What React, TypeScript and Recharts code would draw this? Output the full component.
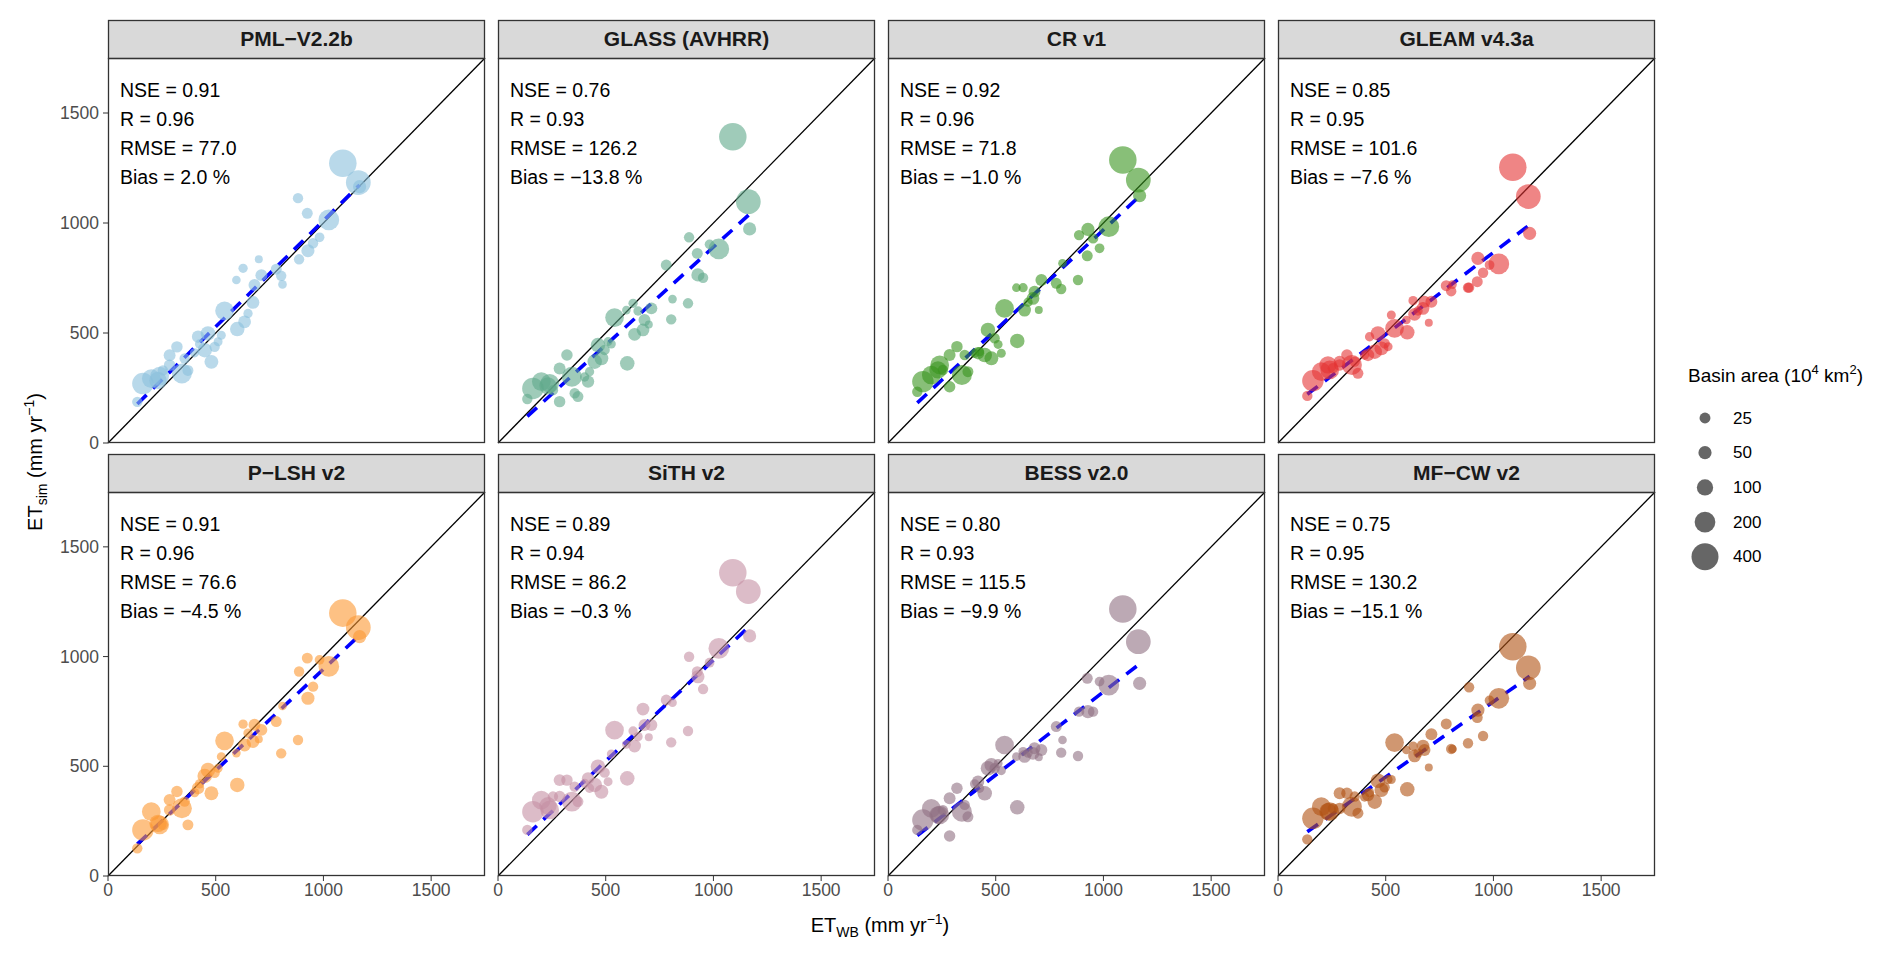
import React from 'react'
import { ScatterChart, Scatter, XAxis, YAxis, ReferenceLine } from 'recharts'

const FONT = '"Liberation Sans", Arial, Helvetica, sans-serif'

// basins: water-balance ET (x) and basin area (10^4 km2), shared by all panels
const etWb = [1090, 1162, 1168, 1025, 928, 887, 982, 952, 925, 810, 781, 804, 882, 712, 680, 673, 627, 634, 596, 700, 541, 600, 464, 511, 495, 480, 449, 418, 402, 425, 320, 286, 356, 343, 371, 240, 286, 201, 232, 162, 136, 255, 526, 650]
const basinArea = [420, 320, 50, 200, 50, 20, 15, 20, 25, 8, 25, 20, 20, 35, 35, 45, 12, 45, 8, 5, 150, 70, 70, 10, 20, 60, 70, 40, 12, 12, 30, 35, 20, 180, 25, 150, 30, 150, 120, 220, 20, 20, 10, 12]

// simulated ET per product
const simPml = [1272, 1184, 1165, 1014, 874, 835, 935, 908, 1044, 721, 790, 760, 1113, 763, 718, 639, 794, 551, 741, 835, 601, 518, 498, 460, 437, 369, 422, 483, 410, 450, 437, 399, 384, 316, 330, 304, 354, 293, 285, 270, 187, 330, 490, 589]
const simGlass = [1392, 1097, 973, 882, 764, 935, 903, 751, 862, 654, 809, 562, 635, 612, 559, 514, 635, 494, 604, 539, 570, 362, 445, 461, 423, 385, 370, 279, 300, 324, 400, 339, 226, 301, 211, 271, 188, 279, 260, 248, 200, 240, 450, 600]
const simCr = [1286, 1195, 1124, 983, 971, 945, 885, 930, 851, 817, 726, 700, 741, 741, 688, 657, 706, 604, 706, 604, 612, 464, 514, 448, 476, 385, 400, 408, 408, 415, 438, 400, 400, 309, 324, 355, 256, 309, 332, 279, 233, 332, 408, 640]
const simGleam = [1253, 1120, 953, 814, 839, 706, 809, 774, 733, 720, 715, 690, 706, 642, 642, 612, 647, 585, 559, 547, 521, 503, 498, 438, 453, 430, 415, 400, 400, 483, 400, 370, 370, 355, 317, 332, 355, 324, 355, 283, 214, 340, 582, 600]
const simPlsh = [1198, 1132, 1091, 955, 810, 932, 985, 863, 993, 775, 704, 559, 620, 666, 689, 613, 692, 597, 560, 623, 616, 415, 483, 491, 470, 377, 456, 400, 380, 420, 385, 347, 339, 309, 233, 233, 301, 293, 240, 210, 126, 233, 544, 651]
const simSith = [1382, 1296, 1094, 1037, 908, 999, 972, 852, 931, 790, 802, 609, 661, 688, 688, 761, 661, 592, 600, 632, 665, 445, 498, 430, 471, 384, 415, 445, 422, 400, 437, 437, 407, 339, 339, 301, 362, 346, 320, 293, 210, 362, 556, 635]
const simBess = [1217, 1068, 878, 870, 749, 749, 886, 749, 901, 620, 681, 562, 547, 574, 582, 559, 567, 545, 544, 541, 597, 313, 491, 513, 491, 506, 377, 430, 420, 400, 400, 354, 324, 293, 270, 278, 182, 308, 278, 255, 210, 300, 480, 560]
const simMfcw = [1045, 949, 878, 810, 756, 860, 800, 638, 722, 579, 693, 579, 605, 646, 574, 592, 592, 547, 574, 494, 608, 395, 434, 440, 404, 392, 339, 369, 360, 380, 377, 377, 362, 316, 286, 293, 308, 316, 293, 263, 167, 308, 440, 560]

const products = ['PML−V2.2b', 'GLASS (AVHRR)', 'CR v1', 'GLEAM v4.3a', 'P−LSH v2', 'SiTH v2', 'BESS v2.0', 'MF−CW v2']
const sims = [simPml, simGlass, simCr, simGleam, simPlsh, simSith, simBess, simMfcw]
const colors = ['#8bbfdc', '#5fa88a', '#39941e', '#e43434', '#fc9832', '#c58fa3', '#8f7082', '#b05213']
const nse = ['0.91', '0.76', '0.92', '0.85', '0.91', '0.89', '0.80', '0.75']
const corr = ['0.96', '0.93', '0.96', '0.95', '0.96', '0.94', '0.93', '0.95']
const rmse = ['77.0', '126.2', '71.8', '101.6', '76.6', '86.2', '115.5', '130.2']
const bias = ['2.0', '−13.8', '−1.0', '−7.6', '−4.5', '−0.3', '−9.9', '−15.1']

const axisTicks = [0, 500, 1000, 1500]
const legendAreas = [25, 50, 100, 200, 400]

// layout
const colLeft = [108, 498, 888, 1278]
const rowTop = [58, 492]
const rowH = [385, 384]
const PLOT_W = 377
const STRIP_H = 38
const AXIS_W = 60
const AXIS_H = 40
const PAD = 12

const radius = (area: number) => 2.8 + 0.535 * Math.sqrt(area)

function lm(xs: number[], ys: number[]) {
  const n = xs.length
  const mx = xs.reduce((a, b) => a + b, 0) / n
  const my = ys.reduce((a, b) => a + b, 0) / n
  let sxy = 0
  let sxx = 0
  xs.forEach((x, i) => {
    sxy += (x - mx) * (ys[i] - my)
    sxx += (x - mx) * (x - mx)
  })
  const slope = sxy / sxx
  return { slope, intercept: my - slope * mx }
}

function Panel({ idx }: { idx: number }) {
  const col = idx % 4
  const row = Math.floor(idx / 4)
  const showY = col === 0
  const showX = row === 1
  const plotH = rowH[row]
  const data = etWb.map((x, i) => ({ x, y: sims[idx][i], area: basinArea[i] }))
  const { slope, intercept } = lm(etWb, sims[idx])
  const x0 = Math.min(...etWb)
  const x1 = Math.max(...etWb)
  const tickStyle = { fill: '#4d4d4d', fontSize: 17.5, fontFamily: FONT }
  const color = colors[idx]

  return (
    <div style={{ position: 'absolute', left: colLeft[col] - (showY ? AXIS_W : 0) - PAD, top: rowTop[row] - PAD }}>
      <ScatterChart
        width={PLOT_W + (showY ? AXIS_W : 0) + 2 * PAD}
        height={plotH + (showX ? AXIS_H : 0) + 2 * PAD}
        margin={{ top: PAD, right: PAD, bottom: PAD, left: PAD }}
      >
        <XAxis
          type="number"
          dataKey="x"
          domain={[0, 1750]}
          ticks={axisTicks}
          interval={0}
          allowDataOverflow
          hide={!showX}
          height={AXIS_H}
          axisLine={false}
          tickLine={{ stroke: '#333333' }}
          tickSize={5}
          tickMargin={3}
          tick={tickStyle}
        />
        <YAxis
          type="number"
          dataKey="y"
          domain={[0, 1750]}
          ticks={axisTicks}
          interval={0}
          allowDataOverflow
          hide={!showY}
          width={AXIS_W}
          axisLine={false}
          tickLine={{ stroke: '#333333' }}
          tickSize={5}
          tickMargin={4}
          tick={tickStyle}
        />
        <Scatter
          data={data}
          isAnimationActive={false}
          shape={(p: any) => (
            <circle cx={p.cx} cy={p.cy} r={radius(p.payload.area)} fill={color} fillOpacity={0.6} stroke="none" />
          )}
        />
        <ReferenceLine
          segment={[{ x: 0, y: 0 }, { x: 1750, y: 1750 }]}
          stroke="#000000"
          strokeWidth={1.3}
          ifOverflow="visible"
        />
        <ReferenceLine
          segment={[{ x: x0, y: intercept + slope * x0 }, { x: x1, y: intercept + slope * x1 }]}
          stroke="#0000ff"
          strokeWidth={3.6}
          strokeDasharray="13 9"
          ifOverflow="visible"
        />
      </ScatterChart>
    </div>
  )
}

export default function App() {
  return (
    <div style={{ position: 'absolute', left: 0, top: 0, width: 1892, height: 955, background: '#ffffff', fontFamily: FONT }}>
      {products.map((_, i) => (
        <Panel key={i} idx={i} />
      ))}
      <svg width={1892} height={955} style={{ position: 'absolute', left: 0, top: 0, pointerEvents: 'none' }} fontFamily={FONT}>
        {products.map((name, i) => {
          const col = i % 4
          const row = Math.floor(i / 4)
          const left = colLeft[col]
          const top = rowTop[row]
          return (
            <g key={name}>
              <rect x={left + 0.5} y={top - STRIP_H + 0.5} width={PLOT_W - 1} height={STRIP_H} fill="#d9d9d9" stroke="#333333" strokeWidth={1.3} />
              <text x={left + PLOT_W / 2} y={top - 12} textAnchor="middle" fontSize={21} fontWeight="bold" fill="#1a1a1a">
                {name}
              </text>
              <rect x={left + 0.5} y={top + 0.5} width={PLOT_W - 1} height={rowH[row] - 1} fill="none" stroke="#333333" strokeWidth={1.3} />
              <g fontSize={19.5} fill="#000000">
                <text x={left + 12} y={top + 39}>NSE = {nse[i]}</text>
                <text x={left + 12} y={top + 68}>R = {corr[i]}</text>
                <text x={left + 12} y={top + 97}>RMSE = {rmse[i]}</text>
                <text x={left + 12} y={top + 126}>Bias = {bias[i]} %</text>
              </g>
            </g>
          )
        })}
        <text x={880} y={932} textAnchor="middle" fontSize={20} fill="#000000">
          ET<tspan dy={5} fontSize={14}>WB</tspan>
          <tspan dy={-5}> (mm yr</tspan>
          <tspan dy={-8} fontSize={14}>−1</tspan>
          <tspan dy={8}>)</tspan>
        </text>
        <text transform="translate(42, 462) rotate(-90)" textAnchor="middle" fontSize={20} fill="#000000">
          ET<tspan dy={5} fontSize={14}>sim</tspan>
          <tspan dy={-5}> (mm yr</tspan>
          <tspan dy={-8} fontSize={14}>−1</tspan>
          <tspan dy={8}>)</tspan>
        </text>
        <text x={1688} y={382} fontSize={19} fill="#000000">
          Basin area (10<tspan dy={-8} fontSize={13}>4</tspan>
          <tspan dy={8}> km</tspan>
          <tspan dy={-8} fontSize={13}>2</tspan>
          <tspan dy={8}>)</tspan>
        </text>
        {legendAreas.map((a, i) => (
          <g key={a}>
            <circle cx={1705} cy={418 + i * 34.7} r={radius(a)} fill="#000000" fillOpacity={0.6} />
            <text x={1733} y={418 + i * 34.7} dominantBaseline="central" fontSize={17} fill="#000000">
              {a}
            </text>
          </g>
        ))}
      </svg>
    </div>
  )
}
